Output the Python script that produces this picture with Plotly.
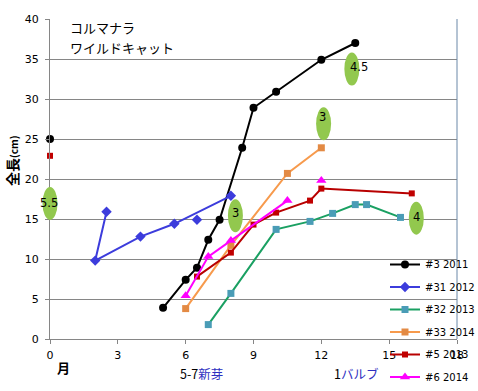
import plotly.graph_objects as go

# ---- data ----
x_ticks = [0, 3, 6, 9, 12, 15, 18]
y_ticks = [0, 5, 10, 15, 20, 25, 30, 35, 40]

s3_x = [0, None, 5, 6, 6.5, 7, 7.5, 8.5, 9, 10, 12, 13.5]
s3_y = [25, None, 3.9, 7.4, 8.9, 12.4, 14.9, 23.9, 28.9, 30.9, 34.9, 37]
s31_x = [2.5, 2, 4, 5.5, 8, None, 6.5]
s31_y = [15.9, 9.8, 12.8, 14.4, 17.9, None, 14.9]
s32_x = [7, 8, 10, 11.5, 12.5, 13.5, 14, 15.5]
s32_y = [1.8, 5.7, 13.7, 14.7, 15.7, 16.8, 16.8, 15.2]
s33_x = [6, 8, 10.5, 12]
s33_y = [3.8, 11.7, 20.7, 23.9]
s5_x = [0, None, 6.5, 8, 9, 10, 11.5, 12, 16]
s5_y = [22.9, None, 7.8, 10.8, 14.3, 15.8, 17.3, 18.8, 18.2]
s6_x = [6, 7, 8, 10.5, None, 12]
s6_y = [5.4, 10.3, 12.3, 17.3, None, 19.8]

bulb_x = [0, 8.2, 12.1, 13.35, 16.2]
bulb_y = [16.95, 15.4, 26.9, 33.75, 15.1]
bulb_labels = ["5.5", "3", "3", "4.5", "4"]

series_names = ["#3 2011", "#31 2012", "#32 2013", "#33 2014", "#5 2013", "#6 2014"]

X_RANGE = [0, 18]
Y_RANGE = [0, 40]

# ---- styles ----
FONT = "DejaVu Sans"
JP = "Noto Sans CJK JP"
styles = [
    dict(line=dict(color="#000000", width=2), marker=dict(symbol="circle", size=8, color="#000000")),
    dict(line=dict(color="#3C3CDC", width=2), marker=dict(symbol="diamond", size=8, color="#3C3CDC")),
    dict(line=dict(color="#1AA062", width=2), marker=dict(symbol="square", size=7, color="#4A9CB6")),
    dict(line=dict(color="#F79A4C", width=2), marker=dict(symbol="square", size=7, color="#E38A44")),
    dict(line=dict(color="#B80000", width=2), marker=dict(symbol="square", size=6, color="#C00000")),
    dict(line=dict(color="#FF00FF", width=2), marker=dict(symbol="triangle-up", size=9, color="#FF00FF")),
]
xs = [s3_x, s31_x, s32_x, s33_x, s5_x, s6_x]
ys = [s3_y, s31_y, s32_y, s33_y, s5_y, s6_y]

fig = go.Figure()
for name, x, y, st in zip(series_names, xs, ys, styles):
    fig.add_trace(go.Scatter(x=x, y=y, name=name, mode="lines+markers", cliponaxis=False,
                             connectgaps=False, legendgroup=name, **st))

# green ellipses (bulb counts) - x in paper units so they are not clipped at the axis
label_shift = [(-1, 0), (0, 3), (-1, 7), (7, 2), (0, 1)]
for bx, by, lab, (dx, dy) in zip(bulb_x, bulb_y, bulb_labels, label_shift):
    xp = (bx - X_RANGE[0]) / (X_RANGE[1] - X_RANGE[0])
    fig.add_shape(type="circle", xref="paper", yref="y", xsizemode="pixel", ysizemode="pixel",
                  xanchor=xp, yanchor=by, x0=-7.5, x1=7.5, y0=-16.5, y1=16.5,
                  fillcolor="#92C84E", line=dict(width=0), layer="above")
    fig.add_annotation(x=bx, y=by, text=lab, showarrow=False, xshift=dx, yshift=dy,
                       font=dict(family=FONT, size=11.5, color="#000000"))

# right border
fig.add_shape(type="line", xref="paper", yref="paper", x0=1, x1=1, y0=0, y1=1,
              line=dict(color="#6A88A8", width=1))

L, R, T, B = 50, 21, 19, 52
W, H = 478, 391
pw, ph = W - L - R, H - T - B
def px(xp):
    return (xp - L) / pw
def py(yp):
    return (H - B - yp) / ph

def note(text, xpix, ypix, size, **kw):
    fig.add_annotation(xref="paper", yref="paper", x=px(xpix), y=py(ypix), text=text,
                       showarrow=False, xanchor=kw.pop("xanchor", "center"), yanchor="middle",
                       font=dict(family=JP, size=size, color="#000"), **kw)

note("コルマナラ", 68, 28, 13, xanchor="left")
note("ワイルドキャット", 68, 48, 13, xanchor="left")
note("<b>全長<span style='font-size:10px'>(cm)</span></b>", 12, 161, 14, textangle=-90)
note("<b>月</b>", 63, 367, 13)
note("5-7<span style='color:#2E2EC0'>新芽</span>", 201, 373, 12.5)
note("1<span style='color:#2E2EC0'>バルブ</span>", 356, 373, 12.5)

fig.update_layout(
    width=W, height=H,
    margin=dict(l=L, r=R, t=T, b=B, autoexpand=False),
    paper_bgcolor="white", plot_bgcolor="white",
    font=dict(family=FONT, size=11, color="#000"),
    showlegend=True,
    legend=dict(x=px(385), y=py(250), xanchor="left", yanchor="top",
                bgcolor="rgba(0,0,0,0)", font=dict(family=FONT, size=10, color="#000"),
                tracegroupgap=3.5, itemwidth=30),
    xaxis=dict(range=X_RANGE, tickvals=x_ticks, ticktext=[str(v) for v in x_ticks],
               showgrid=False, zeroline=False, showline=True, linecolor="#868686",
               ticks="outside", ticklen=4, tickcolor="#868686", ticklabelstandoff=2),
    yaxis=dict(range=Y_RANGE, tickvals=y_ticks, showgrid=True, gridcolor="#868686",
               gridwidth=1, zeroline=False, showline=True, linecolor="#868686",
               ticks="outside", ticklen=4, tickcolor="#868686", ticklabelstandoff=4),
)

fig.write_html("out.html", config={"displayModeBar": False},
               post_script="document.body.style.margin='0';")
